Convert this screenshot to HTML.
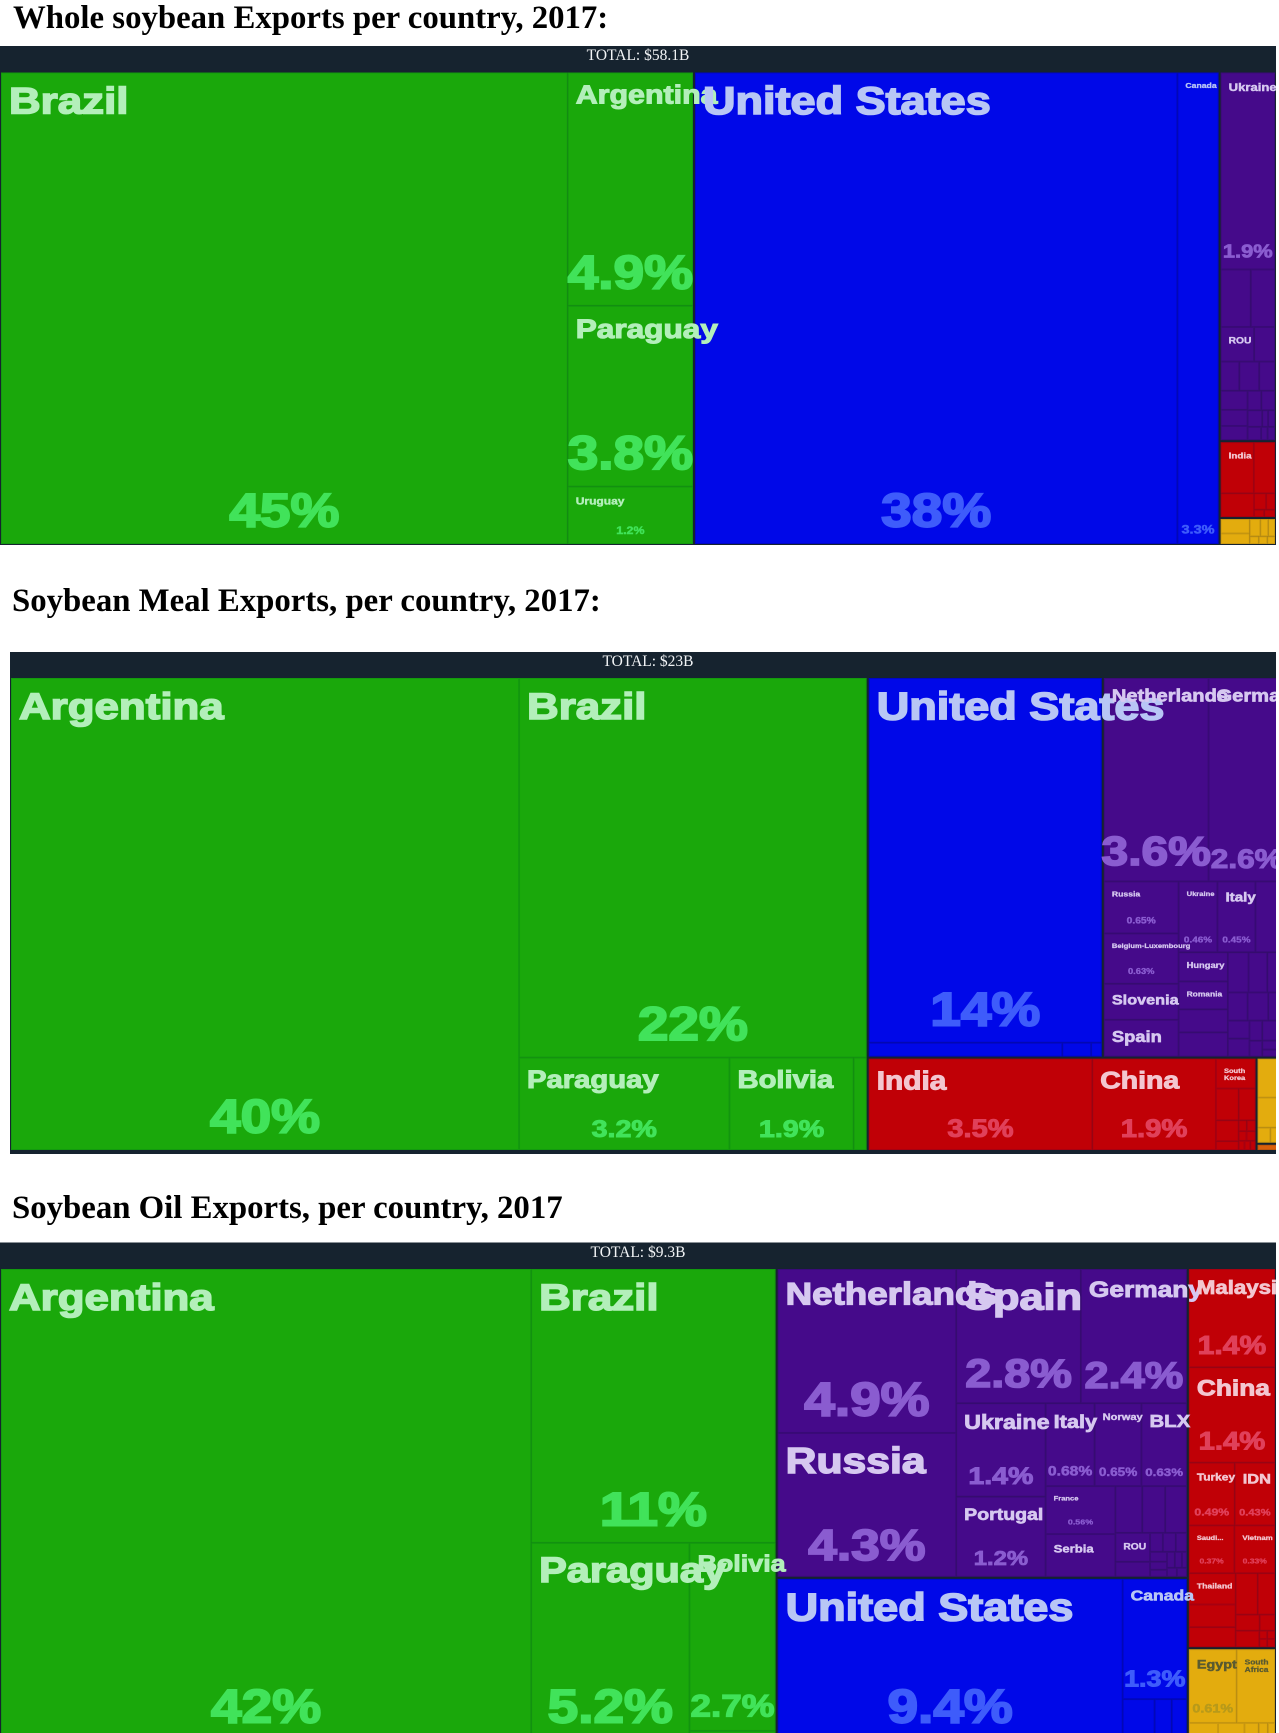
<!DOCTYPE html>
<html lang="en">
<head>
<meta charset="utf-8">
<title>Soybean exports per country, 2017</title>
<style>
html,body{margin:0;padding:0;background:#fff;}
svg{display:block;}
.page-title{font-family:"Liberation Serif",serif;font-weight:bold;font-size:32.8px;fill:#000;}
.total{font-family:"Liberation Serif",serif;font-size:15.5px;fill:#f2f4f6;text-anchor:middle;}
.lbl{font-family:"Liberation Sans",sans-serif;font-weight:bold;}
</style>
</head>
<body>
<svg id="page" xmlns="http://www.w3.org/2000/svg" width="1279" height="1733" viewBox="0 0 1279 1733">
  <defs>
    <clipPath id="clip-whole"><rect x="0" y="46" width="1276" height="500"/></clipPath>
    <clipPath id="clip-meal"><rect x="10" y="652" width="1266" height="503"/></clipPath>
    <clipPath id="clip-oil"><rect x="0" y="1242" width="1276" height="491"/></clipPath>
  </defs>
  <text class="page-title" x="13" y="28">Whole soybean Exports per country, 2017:</text>
  <text class="page-title" x="12" y="611">Soybean Meal Exports, per country, 2017:</text>
  <text class="page-title" x="12" y="1218">Soybean Oil Exports, per country, 2017</text>

  <g id="whole" clip-path="url(#clip-whole)">
    <rect x="0" y="46" width="1276" height="499" fill="#16232f"/>
    <text class="total" x="638" y="60">TOTAL: $58.1B</text>
  </g>
  <g id="meal" clip-path="url(#clip-meal)">
    <rect x="10" y="652" width="1266" height="502" fill="#16232f"/>
    <text class="total" x="648" y="666">TOTAL: $23B</text>
  </g>
  <g id="oil" clip-path="url(#clip-oil)">
    <rect x="0" y="1242.5" width="1276" height="491" fill="#16232f"/>
    <text class="total" x="638" y="1257">TOTAL: $9.3B</text>
  </g>
</svg>
<script>
const _ = '';

/* ---------- Whole soybeans ---------- */
const wholeCategories = ['h',
  ['hSA', 'Brazil', ['v', 'Argentina', 'Paraguay', 'Uruguay']],
  ['hNA', 'United States', 'Canada'],
  ['v',
    ['vEU', 'Ukraine', ['h', _, _], ['h', 'ROU', _], ['h', _, _, _],
      ['h', ['v', _, _, _], ['v', ['h', _, _], ['h', _, _, _], ['h', _, _, _]]]],
    ['vAS', ['h', 'India', _], ['h', _, ['v', ['h', _, _], ['h', _, _]]]],
    ['hAF', ['v', _, _], ['v', ['h', _, _, _], ['h', _, _, _]]]
  ]
];
const wholeShares = [
  44.6, 4.88, 3.78, 1.2,
  38, 3.25,
  1.85, .30, .24, .2, .125, .094, .1, .08,
  .089, .075, .066, .046, .046, .042, .017, .02, .031, .015, .017,
  .30, .19, .14, .035, .026, .013, .014,
  .078, .057, .034, .025, .022, .013, .012, .011
];
const wholeLabelSizes = {
  'Brazil': [37.5, 47], 'Argentina': [26, 47], 'Paraguay': [27, 47], 'Uruguay': [10.3, 10.6],
  'United States': [38.5, 47], 'Canada': [7.4, 12.4], 'Ukraine': [11.2, 18.7],
  'ROU': [8.8, 0], 'India': [8.4, 0]
};

/* ---------- Soybean meal ---------- */
const mealCategories = ['h',
  ['hSA', 'Argentina', ['v', 'Brazil', ['h', 'Paraguay', 'Bolivia', _]]],
  ['v',
    ['h',
      ['vNA', 'United States', ['h', _, _, _]],
      ['vEU',
        ['h', 'Netherlands', 'Germany'],
        ['h',
          ['v', 'Russia', 'Belgium-Luxembourg', 'Slovenia', 'Spain'],
          ['v',
            ['h', 'Ukraine', 'Italy', _],
            ['h',
              ['v', 'Hungary', 'Romania', _, _],
              ['v',
                ['h', _, _, _],
                ['h', _, _, _],
                ['h', ['v', _, _], ['v', _, _], ['v', _, _, _]]
              ]
            ]
          ]
        ]
      ]
    ],
    ['h',
      ['hAS', 'India', 'China',
        ['v', 'South Korea',
          ['h', _, _],
          ['h', ['v', _, _], ['v', ['h', _, _], ['h', _, _], ['h', _, _, _]]]
        ]
      ],
      ['v', ['vAF', _, _, ['h', _, _]], ['vOR', _]]
    ]
  ]
];
const mealShares = [
  39.7, 21.85, 3.22, 1.9, .2,
  14.18, .45, .067, .025,
  3.56, 2.6,
  .65, .63, .45, .46,
  .46, .45, .35,
  .24, .23, .19, .2,
  .139, .126, .119, .093, .097, .079,
  .065, .065, .043, .034, .076, .034, .027,
  3.45, 1.91, .2, .122, .09, .08, .034,
  .015, .016, .013, .015, .009, .009, .008,
  .193, .149, .035, .04, .035
];
const mealLabelSizes = {
  'Argentina': [37.5, 47], 'Brazil': [37.5, 47], 'Paraguay': [25, 24.5], 'Bolivia': [25, 24.5],
  'United States': [38.5, 47], 'Netherlands': [17.2, 41], 'Germany': [17.2, 27],
  'Russia': [7.4, 8.8], 'Ukraine': [6.5, 8.5], 'Italy': [13, 8.5],
  'Belgium-Luxembourg': [6.5, 8], 'Slovenia': [13.9, 0], 'Spain': [15.7, 0],
  'Hungary': [8, 0], 'Romania': [7.2, 0],
  'India': [25.5, 24.8], 'China': [24.3, 25], 'South Korea': [6.4, 0, true]
};

/* ---------- Soybean oil ---------- */
const oilCategories = ['h',
  ['hSA', 'Argentina', ['v', 'Brazil', ['h', 'Paraguay', ['v', 'Bolivia', _]]]],
  ['v',
    ['hEU',
      ['v', 'Netherlands', 'Russia'],
      ['v',
        ['h', 'Spain', 'Germany'],
        ['h',
          ['v', 'Ukraine', 'Portugal'],
          ['v',
            ['h', 'Italy', 'Norway', 'BLX'],
            ['h',
              ['v', 'France', 'Serbia'],
              ['v',
                ['h', _, _, _],
                ['h',
                  ['v', 'ROU', _],
                  ['v',
                    ['h', _, _, _],
                    ['h',
                      ['v', _, _, _],
                      ['v', ['h', _, _, _], ['h', _, _]]
                    ]
                  ]
                ]
              ]
            ]
          ]
        ]
      ]
    ],
    ['hNA', 'United States', ['v', 'Canada', ['h', _, _, _]]]
  ],
  ['v',
    ['vAS', 'Malaysia', 'China',
      ['h', 'Turkey', 'IDN'],
      ['h', 'Saudi...', 'Vietnam'],
      ['h',
        ['v', 'Thailand', _, _],
        ['v', ['h', _, _], ['h', _, _], ['h', _, ['v', ['h', _, _], ['h', _, _]]]]
      ]
    ],
    ['vAF', ['h', 'Egypt', 'South Africa'], ['h', _, _, _, _, _]]
  ]
];
const oilShares = [
  41.6, 11.16, 5.2, 2.7, .13,
  4.9, 4.3, 2.8, 2.38,
  1.4, 1.2,
  .68, .65, .63,
  .56, .5,
  .21, .18, .17,
  .168, .087,
  .041, .041, .035,
  .028, .023, .02,
  .021, .019, .013, .015, .015,
  9.36, 1.3, .22, .118, .104,
  1.44, 1.40, .49, .43, .37, .33,
  .25, .18, .16,
  .156, .122, .066, .042, .066, .011, .011, .011, .011,
  .61, .49, .086, .078, .042, .027, .021
];
const oilLabelSizes = {
  'Argentina': [37.5, 47], 'Brazil': [37.5, 47], 'Paraguay': [35.5, 47], 'Bolivia': [23, 31.5],
  'Netherlands': [31.4, 47], 'Russia': [36.5, 44], 'Spain': [37, 40], 'Germany': [22.5, 37],
  'Ukraine': [19.9, 24.4], 'Portugal': [16.7, 20.4], 'Italy': [18.6, 13.4], 'Norway': [9.5, 11.6],
  'BLX': [17.4, 11.4], 'France': [6.5, 7.6], 'Serbia': [11.2, 0], 'ROU': [8.8, 0],
  'United States': [38.5, 47], 'Canada': [15, 23],
  'Malaysia': [19, 25.7], 'China': [22.5, 25], 'Turkey': [10.2, 10.5], 'IDN': [14, 9.5],
  'Saudi...': [6.4, 7.3], 'Vietnam': [6.7, 7.3], 'Thailand': [7.4, 0],
  'Egypt': [12.3, 12.3], 'South Africa': [7.2, 0, true]
};

const REGION_STYLE = {
  SA: { fill: '#1aa80b', edge: '#139a0e', name: '#b3efba', pct: '#41e35a' },
  NA: { fill: '#0008e8', edge: '#0006c4', name: '#b8c6f5', pct: '#3e5cfb' },
  EU: { fill: '#450a8a', edge: '#3a0a78', name: '#d6c8f0', pct: '#8a5cd0' },
  AS: { fill: '#c00006', edge: '#a80010', name: '#f3c6d0', pct: '#e0405a' },
  AF: { fill: '#e3ac0e', edge: '#cc9a10', name: '#5a5a30', pct: '#b89a1a' },
  OR: { fill: '#d9600b', edge: '#c0560b', name: '#fff', pct: '#fff' }
};
const SVG_NS = 'http://www.w3.org/2000/svg';
const X_STRETCH = 1.17;

function formatShare(v) {
  if (v >= 10) return v.toFixed(0) + '%';
  if (v >= 1) return v.toFixed(1) + '%';
  return v.toFixed(2) + '%';
}
function slug(s) {
  return s.toLowerCase().replace(/[^a-z0-9]+/g, '-').replace(/-+$/, '');
}

function buildTree(node, region, shares, cursor) {
  if (!Array.isArray(node)) {
    return { name: node, value: shares[cursor.i++], region: region };
  }
  const code = node[0];
  const r = code.length > 1 ? code.slice(1) : region;
  const kids = node.slice(1).map(function (k) { return buildTree(k, r, shares, cursor); });
  const total = kids.reduce(function (a, k) { return a + k.value; }, 0);
  return { dir: code[0], group: code.length > 1, kids: kids, value: total, region: r };
}

function placeTree(n, x, y, w, h, out) {
  if (!n.kids) {
    out.push({ n: n, x: x, y: y, w: w, h: h });
    return;
  }
  if (n.group) { x += 1; y += 1; w -= 2; h -= 2; }
  let offset = 0;
  n.kids.forEach(function (k) {
    const f = k.value / n.value;
    if (n.dir === 'h') {
      placeTree(k, x + offset, y, w * f, h, out);
      offset += w * f;
    } else {
      placeTree(k, x, y + offset, w, h * f, out);
      offset += h * f;
    }
  });
}

function addLabel(parent, txt, x, y, size, fill, anchor, kind) {
  const t = document.createElementNS(SVG_NS, 'text');
  t.setAttribute('class', 'lbl');
  t.setAttribute('transform', 'translate(' + x + ' ' + y + ') scale(' + X_STRETCH + ' 1)');
  t.setAttribute('font-size', size);
  t.setAttribute('fill', fill);
  t.setAttribute('stroke', fill);
  t.setAttribute('stroke-width', size * 0.04);
  t.setAttribute('text-anchor', anchor);
  t.textContent = txt;
  
  
  parent.appendChild(t);
}

function renderTreemap(groupId, categories, shares, labelSizes, x, y, w, h) {
  const root = buildTree(categories, '', shares, { i: 0 });
  const tiles = [];
  placeTree(root, x, y, w, h, tiles);
  const g = document.getElementById(groupId);
  tiles.forEach(function (t) {
    const st = REGION_STYLE[t.n.region];
    const rect = document.createElementNS(SVG_NS, 'rect');
    rect.setAttribute('x', t.x + 0.5);
    rect.setAttribute('y', t.y + 0.5);
    rect.setAttribute('width', Math.max(0, t.w - 1));
    rect.setAttribute('height', Math.max(0, t.h - 1));
    rect.setAttribute('fill', st.fill);
    rect.setAttribute('stroke', st.edge);
    rect.setAttribute('stroke-width', 1);
    
    
    g.appendChild(rect);
  });
  tiles.forEach(function (t) {
    const sizes = labelSizes[t.n.name];
    if (!sizes) return;
    const st = REGION_STYLE[t.n.region];
    const nameSize = sizes[0];
    const pctSize = sizes[1];
    const baseline = t.y + 9 + nameSize * 0.13 + nameSize * 0.72;
    if (sizes[2]) {
      const words = t.n.name.split(' ');
      words.forEach(function (word, i) {
        addLabel(g, word, t.x + 8, baseline + i * nameSize * 1.08, nameSize, st.name, 'start', 'name');
      });
    } else {
      addLabel(g, t.n.name, t.x + 8, baseline, nameSize, st.name, 'start', 'name');
    }
    if (pctSize) {
      addLabel(g, formatShare(t.n.value), t.x + t.w / 2, t.y + t.h - 8 - pctSize * 0.2, pctSize, st.pct, 'middle', 'share');
    }
  });
}

renderTreemap('whole', wholeCategories, wholeShares, wholeLabelSizes, 0, 71.5, 1276, 473.5);
renderTreemap('meal', mealCategories, mealShares, mealLabelSizes, 10, 677, 1276, 474);
renderTreemap('oil', oilCategories, oilShares, oilLabelSizes, 0, 1268, 1276, 473);
</script>
</body>
</html>
